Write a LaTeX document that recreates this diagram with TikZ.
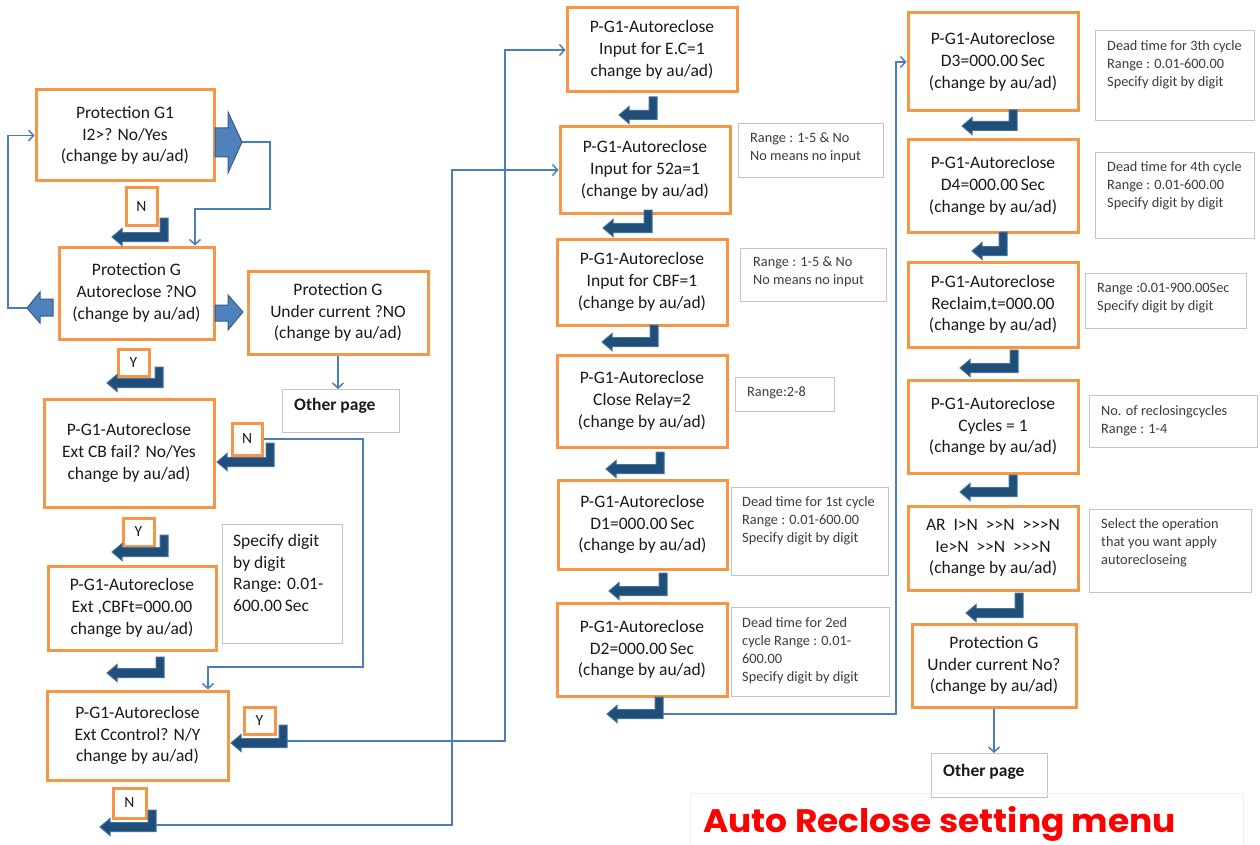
\documentclass[tikz,border=0pt]{standalone}
\usepackage{fontspec}
\setmainfont{Carlito}[Ligatures=TeXOff]
\newfontfamily\titlefont{Poppins}
\usetikzlibrary{arrows.meta,calc}
\definecolor{orng}{HTML}{F79646}
\definecolor{thinblue}{HTML}{4A7EBB}
\definecolor{bentfill}{HTML}{1F4E79}
\definecolor{bentline}{HTML}{41719C}
\definecolor{blockfill}{HTML}{4F81BD}
\definecolor{blockline}{HTML}{385D8A}
\definecolor{notegray}{HTML}{C4C4C4}
\definecolor{txt}{HTML}{1A1A1A}
\definecolor{titlered}{HTML}{FF0000}
\tikzset{
 obox/.style={draw=orng, line width=3pt, fill=white, align=center, inner sep=0pt, font=\fontsize{17.5}{21.7}\selectfont, text=txt},
 lbl/.style={draw=orng, line width=3pt, fill=white, inner sep=0pt, font=\fontsize{15.5}{18}\selectfont, text=txt},
 notebox/.style={draw=notegray, line width=1.2pt, fill=white, inner sep=0pt, anchor=north west},
 notetxt/.style={anchor=north west, align=left, inner sep=0pt, font=\fontsize{14.3}{18}\selectfont, text=txt!85},
 bignotetxt/.style={anchor=north west, align=left, inner sep=0pt, font=\fontsize{17.5}{21.7}\selectfont, text=txt},
 othertxt/.style={anchor=west, inner sep=0pt, font=\bfseries\fontsize{17.5}{19}\selectfont, text=txt},
 conn/.style={draw=thinblue, line width=1.7pt, -{Straight Barb[length=5pt,width=11pt,line width=1.5pt]}},
 bent/.style={fill=bentfill, draw=bentline, line width=1pt, line join=miter},
 block/.style={fill=blockfill, draw=blockline, line width=1pt, line join=miter},
}
% bent arrow: #1 stem right x, #2 stem top y, #3 bar centre y, #4 tip x
\newcommand{\bentarr}[4]{%
 \draw[bent] (#1,#2) -- (#1,{#3+4.5}) -- ({#4+10},{#3+4.5}) -- ({#4+10},{#3+8.5}) -- (#4,#3) -- ({#4+10},{#3-8.5}) -- ({#4+10},{#3-4.5}) -- ({#1-8},{#3-4.5}) -- ({#1-8},#2) -- cycle;}
\begin{document}
\begin{tikzpicture}[x=1pt,y=-1pt]
\useasboundingbox (0,0) rectangle (1260,845);
\fill[white] (0,0) rectangle (1260,845);

% ---------- left column ----------
\node[obox, minimum width=178pt, minimum height=91pt] (A) at (125,135.5) {Protection G1\\I2>? No/Yes\\(change by au/ad)};
\node[obox, minimum width=155pt, minimum height=92pt] (B) at (136.5,293) {Protection G\\Autoreclose ?NO\\(change by au/ad)};
\node[obox, minimum width=180pt, minimum height=83pt] (C) at (338,312.5) {Protection G\\Under current ?NO\\(change by au/ad)};
\node[notebox, minimum width=117pt, minimum height=43pt] (O1) at (282,389) {};
\node[othertxt] (O1t) at (294,406) {Other page};
\node[obox, minimum width=170pt, minimum height=108pt] (D) at (129,453) {P-G1-Autoreclose\\Ext CB fail? No/Yes\\change by au/ad)};
\node[obox, minimum width=168pt, minimum height=84pt] (E) at (132,608) {P-G1-Autoreclose\\Ext ,CBFt=000.00\\change by au/ad)};
\node[notebox, minimum width=120pt, minimum height=119pt] (nE) at (222,524) {};
\node[bignotetxt] (nEt) at (233,534) {Specify digit\\by digit\\Range: 0.01-\\600.00\,Sec};
\node[obox, minimum width=181pt, minimum height=89pt] (F) at (137.5,735.5) {P-G1-Autoreclose\\Ext Ccontrol? N/Y\\change by au/ad)};

\node[lbl, minimum width=31pt, minimum height=37pt] (N1) at (141.5,206.5) {N};
\node[lbl, minimum width=31pt, minimum height=27pt] (Y1) at (133.5,362.5) {Y};
\node[lbl, minimum width=30pt, minimum height=32pt] (N2) at (247,439) {N};
\node[lbl, minimum width=31pt, minimum height=28pt] (Y2) at (138.5,532) {Y};
\node[lbl, minimum width=31pt, minimum height=27pt] (Y3) at (259.5,720.5) {Y};
\node[lbl, minimum width=33pt, minimum height=30pt] (N3) at (129.5,803) {N};

% ---------- middle column ----------
\node[obox, minimum width=170pt, minimum height=84pt] (G1) at (652,50) {P-G1-Autoreclose\\Input for E.C=1\\change by au/ad)};
\node[obox, minimum width=170pt, minimum height=86pt] (G2) at (645,170) {P-G1-Autoreclose\\Input for 52a=1\\(change by au/ad)};
\node[obox, minimum width=170pt, minimum height=86pt] (G3) at (642,282) {P-G1-Autoreclose\\Input for CBF=1\\(change by au/ad)};
\node[obox, minimum width=170pt, minimum height=92pt] (G4) at (642,401) {P-G1-Autoreclose\\Close Relay=2\\(change by au/ad)};
\node[obox, minimum width=169pt, minimum height=89pt] (G5) at (642.5,524.5) {P-G1-Autoreclose\\D1=000.00\,Sec\\(change by au/ad)};
\node[obox, minimum width=170pt, minimum height=93pt] (G6) at (642,649.5) {P-G1-Autoreclose\\D2=000.00\,Sec\\(change by au/ad)};

\node[notebox, minimum width=145pt, minimum height=54pt] (n2) at (738,123) {};
\node[notetxt] (n2t) at (750,133) {Range : 1-5 \& No\\No means no input};
\node[notebox, minimum width=146pt, minimum height=53pt] (n3) at (740,248) {};
\node[notetxt] (n3t) at (753,257) {Range : 1-5 \& No\\No means no input};
\node[notebox, minimum width=99pt, minimum height=34pt] (n4) at (735,377) {};
\node[notetxt] (n4t) at (747,387) {Range:2-8};
\node[notebox, minimum width=157pt, minimum height=88pt] (n5) at (731,487) {};
\node[notetxt] (n5t) at (742,496) {Dead time for 1st cycle\\Range : 0.01-600.00\\Specify digit by digit};
\node[notebox, minimum width=158pt, minimum height=89pt] (n6) at (731,607) {};
\node[notetxt] (n6t) at (742,617) {Dead time for 2ed\\cycle Range : 0.01-\\600.00\\Specify digit by digit};

% ---------- right column ----------
\node[obox, minimum width=170pt, minimum height=98pt] (R1) at (993,62) {P-G1-Autoreclose\\D3=000.00\,Sec\\(change by au/ad)};
\node[obox, minimum width=170pt, minimum height=92pt] (R2) at (993,186) {P-G1-Autoreclose\\D4=000.00\,Sec\\(change by au/ad)};
\node[obox, minimum width=170pt, minimum height=85pt] (R3) at (993,304.5) {P-G1-Autoreclose\\Reclaim,t=000.00\\(change by au/ad)};
\node[obox, minimum width=170pt, minimum height=93pt] (R4) at (993,426.5) {P-G1-Autoreclose\\Cycles = 1\\(change by au/ad)};
\node[obox, minimum width=170pt, minimum height=84pt] (R5) at (993,548) {AR\ \ I>N\ \ >>N\ \ >>>N\\Ie>N\ \ >>N\ \ >>>N\\(change by au/ad)};
\node[obox, minimum width=164pt, minimum height=83pt] (R6) at (994,665.5) {Protection G\\Under current No?\\(change by au/ad)};
\node[notebox, minimum width=116pt, minimum height=44pt] (O2) at (931,753) {};
\node[othertxt] (O2t) at (943,772) {Other page};

\node[notebox, minimum width=159pt, minimum height=90pt] (m1) at (1095,30) {};
\node[notetxt] (m1t) at (1107,40) {Dead time for 3th cycle\\Range : 0.01-600.00\\Specify digit by digit};
\node[notebox, minimum width=159pt, minimum height=86pt] (m2) at (1095,152) {};
\node[notetxt] (m2t) at (1107,161) {Dead time for 4th cycle\\Range : 0.01-600.00\\Specify digit by digit};
\node[notebox, minimum width=161pt, minimum height=55pt] (m3) at (1085,273) {};
\node[notetxt] (m3t) at (1097,283) {Range :0.01-900.00Sec\\Specify digit by digit};
\node[notebox, minimum width=168pt, minimum height=52pt] (m4) at (1089,395) {};
\node[notetxt] (m4t) at (1101,405) {No. of reclosingcycles\\Range : 1-4};
\node[notebox, minimum width=162pt, minimum height=83pt] (m5) at (1089,509) {};
\node[notetxt] (m5t) at (1101,518) {Select the operation\\that you want apply\\autorecloseing};

% ---------- title ----------
\draw[black!6, line width=0.8pt] (690,793) rectangle (1243,846);
\node[anchor=base west, inner sep=0pt, xscale=1.06, text=titlered, font=\titlefont\bfseries\fontsize{32.5}{36}\selectfont] (title) at (703,832) {Auto Reclose setting menu};

% ---------- helper coordinates ----------
\coordinate (tipA) at (242,142);
\coordinate (tipBL) at (27,308);
\coordinate (w1) at (195,209);
\coordinate (v4) at (363,0);
\coordinate (w2) at (208,667);
\coordinate (bF) at (272,741);
\coordinate (v1) at (505,0);
\coordinate (bN3) at (140,825);
\coordinate (v2) at (452,0);
\coordinate (bG6) at (650,714);
\coordinate (v3) at (896,0);

% ---------- thin connectors ----------
\draw[conn] (tipA) -- (270,142) |- (w1) -- (w1 |- B.north);
\draw[conn] (tipBL) -- (8,308) |- (A.west);
\draw[conn] (C.south) -- (C.south |- O1.north);
\draw[conn] (N2.east) -| (v4 |- w2) -- (w2) -- (w2 |- F.north);
\draw[conn] (bF) -| (v1 |- G1.west) -- (G1.west);
\draw[conn] (bN3) -| (v2 |- G2.west) -- (G2.west);
\draw[conn] (bG6) -| (v3 |- R1.west) -- (R1.west);
\draw[conn] (R6.south) -- (R6.south |- O2.north);

% ---------- block arrows ----------
\draw[block] (215,128) -- (228,128) -- (228,112) -- (242,142) -- (228,173) -- (228,157) -- (215,157) -- cycle;
\draw[block] (53,299) -- (40,299) -- (40,292) -- (27,308) -- (40,323) -- (40,316) -- (53,316) -- cycle;
\draw[block] (215,305) -- (228,305) -- (228,295) -- (243,312) -- (228,330) -- (228,321) -- (215,321) -- cycle;

% ---------- bent arrows ----------
\bentarr{168}{218}{237}{112}
\bentarr{163}{367}{383}{107}
\bentarr{274}{443}{462}{217}
\bentarr{168}{535}{552}{112}
\bentarr{164}{657}{673}{107}
\bentarr{287}{725}{743}{231}
\bentarr{156}{810}{827}{100}
\bentarr{657}{97}{115}{619}
\bentarr{652}{210}{228}{603}
\bentarr{658}{325}{342}{602}
\bentarr{664}{452}{469}{606}
\bentarr{667}{573}{591}{609}
\bentarr{663}{697}{714}{607}
\bentarr{1017}{110}{126}{962}
\bentarr{1007}{232}{251}{972}
\bentarr{1018}{350}{368}{960}
\bentarr{1017}{475}{492}{960}
\bentarr{1023}{593}{613}{966}
\end{tikzpicture}
\end{document}
